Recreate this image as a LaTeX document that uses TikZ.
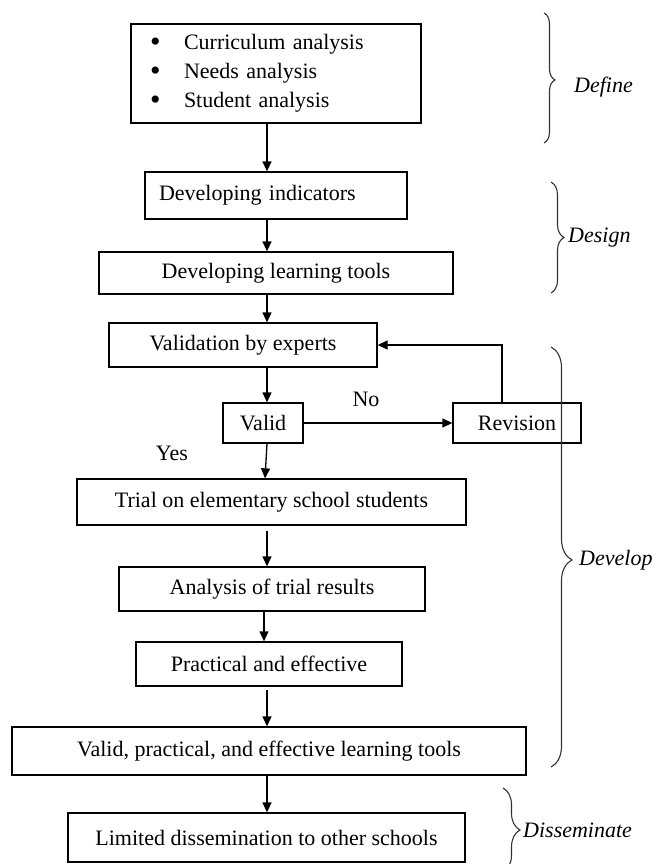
\documentclass[tikz,border=0pt]{standalone}
\usepackage{fontspec}
\setmainfont{Liberation Serif}
\usetikzlibrary{arrows.meta,decorations.pathreplacing}
\newcommand{\bigbul}{\makebox[34pt][l]{\raisebox{-2pt}{\fontsize{30}{29}\selectfont •}}}
\begin{document}
\begin{tikzpicture}[x=1pt,y=-1pt,
  box/.style={draw, line width=1.3pt, inner sep=0pt, font=\fontsize{22}{29}\selectfont},
  arr/.style={line width=1.3pt, -{Triangle[length=10pt,width=9pt]}},
  brc/.style={decorate, line width=1.1pt, draw=black!80},
  lab/.style={font=\fontsize{22}{26}\selectfont, inner sep=0pt},
  ph/.style={font=\fontsize{22}{26}\selectfont\itshape, anchor=west, inner sep=0pt}]
\useasboundingbox (0,0) rectangle (657,864);
\clip (0,0) rectangle (657,864);

% boxes
\node[box, text width=252pt, inner xsep=19pt, minimum height=99pt, align=left] (def) at (276,73.5)
  {\bigbul Curriculum analysis\\\bigbul Needs analysis\\\bigbul Student analysis};
\node[box, text width=234pt, inner xsep=14pt, minimum height=47pt, align=left] (ind) at (276,195.5) {Developing indicators};
\node[box, minimum width=354pt, minimum height=42pt] (tools) at (276,273) {Developing learning tools};
\node[box, minimum width=268pt, minimum height=44pt] (vexp) at (243,345) {Validation by experts};
\node[box, minimum width=80pt, minimum height=40pt] (valid) at (263,423) {Valid};
\node[box, minimum width=128pt, minimum height=40pt] (rev) at (517,423) {Revision};
\node[box, minimum width=389pt, minimum height=46pt] (trial) at (271.5,502) {Trial on elementary school students};
\node[box, minimum width=306pt, minimum height=44pt] (anal) at (272,589) {Analysis of trial results};
\node[box, minimum width=266pt, minimum height=44pt] (prac) at (269,664) {Practical and effective};
\node[box, minimum width=514pt, minimum height=48pt] (vpe) at (269,751) {Valid, practical, and effective learning tools};
\node[box, minimum width=397pt, minimum height=49pt] (lim) at (266.5,837.5) {Limited dissemination to other schools};

% labels
\node[lab] (no) at (366,399) {No};
\node[lab] (yes) at (172,453) {Yes};

% connectors
\coordinate (ax) at (267,0);
\coordinate (ax2) at (264,0);
\coordinate (ty) at (265,0);
\coordinate (fb) at (502,0);
\draw[arr] (def.south -| ax) -- (ind.north -| ax);
\draw[arr] (ind.south -| ax) -- (tools.north -| ax);
\draw[arr] (tools.south -| ax) -- (vexp.north -| ax);
\draw[arr] (vexp.south -| ax) -- (valid.north -| ax);
\draw[arr] (valid.east) -- (rev.west);
\draw[arr] (rev.north -| fb) |- (vexp.east);
\draw[arr] (valid.south -| ax) -- (trial.north -| ty);
\draw[arr, shorten <=5pt] (trial.south -| ax) -- (anal.north -| ax);
\draw[arr] (anal.south -| ax2) -- (prac.north -| ax2);
\draw[arr, shorten <=3pt] (prac.south -| ax) -- (vpe.north -| ax);
\draw[arr] (vpe.south -| ax) -- (lim.north -| ax);

% phase braces
\coordinate (b1t) at (544,13);  \coordinate (b1b) at (544,143);
\coordinate (b2t) at (551,182); \coordinate (b2b) at (551,293);
\coordinate (b3t) at (551,347); \coordinate (b3b) at (551,767);
\coordinate (b4t) at (503,788); \coordinate (b4b) at (503,872);
\draw[brc, decoration={brace, amplitude=11pt, aspect=0.515}] (b1t) -- (b1b);
\draw[brc, decoration={brace, amplitude=13pt, aspect=0.5}] (b2t) -- (b2b);
\draw[brc, decoration={brace, amplitude=21pt, aspect=0.507}] (b3t) -- (b3b);
\draw[brc, decoration={brace, amplitude=17pt, aspect=0.5}] (b4t) -- (b4b);

\node[ph] (ldef) at (574,87) {Define};
\node[ph] (ldes) at (568,238) {Design};
\node[ph] (ldev) at (579,560) {Develop};
\node[ph] (ldis) at (523,830) {Disseminate};
\end{tikzpicture}
\end{document}
